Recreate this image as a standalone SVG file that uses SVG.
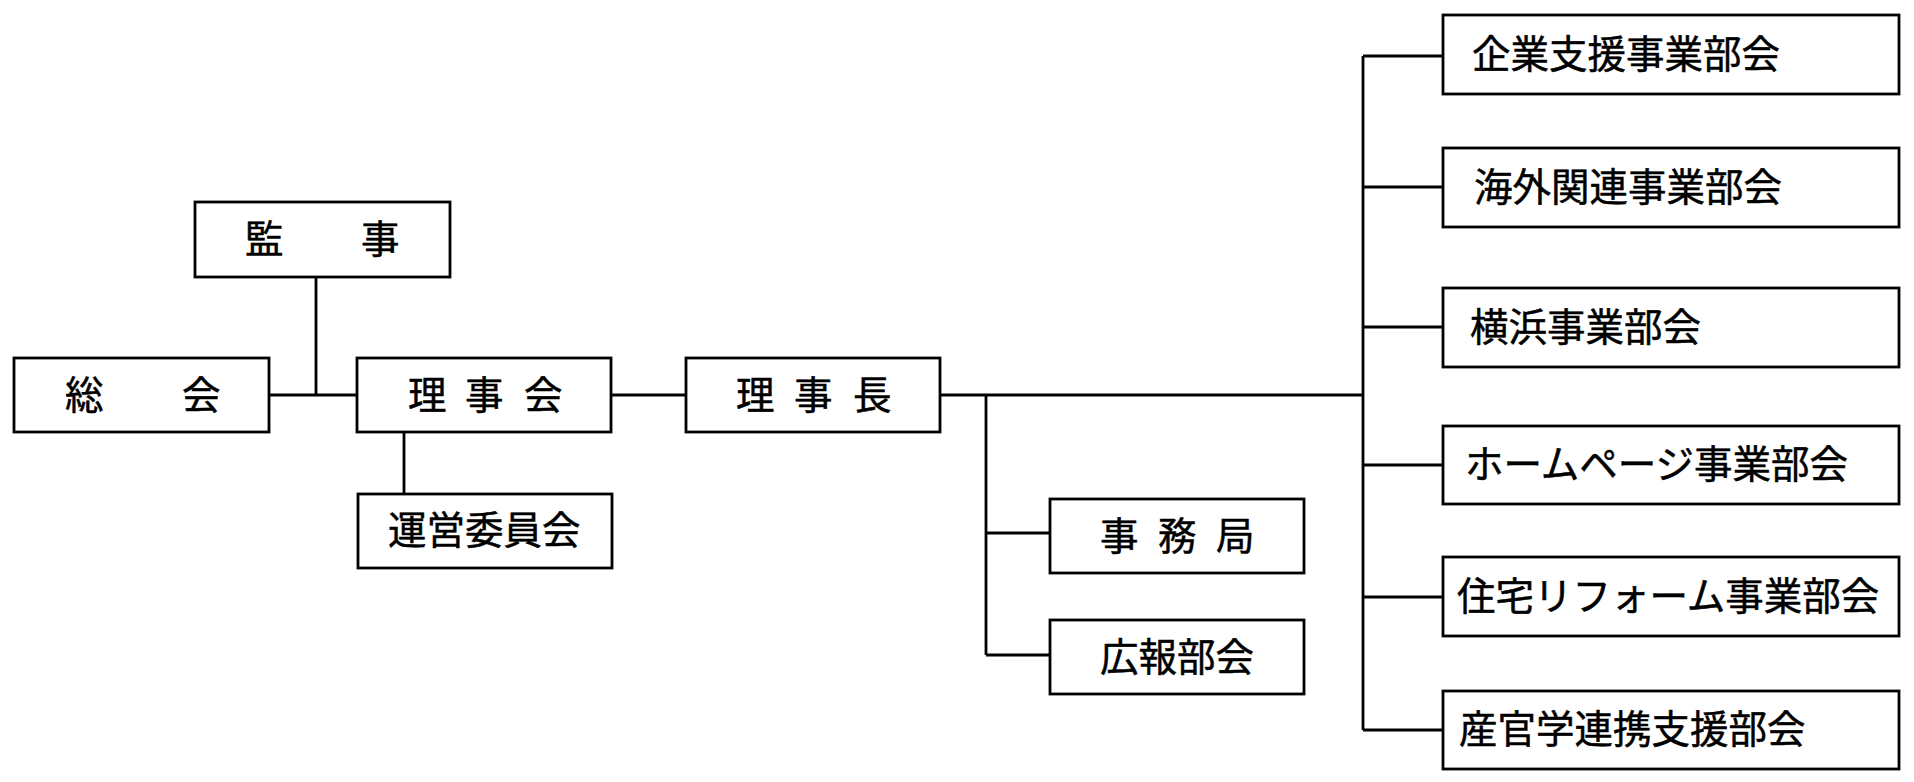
<svg xmlns="http://www.w3.org/2000/svg" width="1914" height="782" viewBox="0 0 1914 782">
<style>
.box{fill:#fff;stroke:#000;stroke-width:2.8}
.ln{fill:none;stroke:#000;stroke-width:2.8}
text{font-family:"Noto Sans CJK JP","Noto Sans CJK SC",sans-serif;font-size:38.5px;fill:#000;stroke:#000;stroke-width:0.5}
</style>
<rect width="1914" height="782" fill="#fff"/>
<g id="connectors">
<path class="ln" d="M316 277V395M269 395H357M404 432V494M611 395H686M940 395H1363M986 395V655M986 533H1050M986 655H1050M1363 56V730M1363 56H1443M1363 187H1443M1363 327H1443M1363 465H1443M1363 597H1443M1363 730H1443"/>
</g>
<g id="kanji"><rect class="box" x="195" y="202" width="255" height="75"/><text x="245 361" y="253">監事</text></g>
<g id="soukai"><rect class="box" x="14" y="358" width="255" height="74"/><text x="65 182" y="409">総会</text></g>
<g id="rijikai"><rect class="box" x="357" y="358" width="254" height="74"/><text x="408 465 524" y="409">理事会</text></g>
<g id="uneiiinkai"><rect class="box" x="358" y="494" width="254" height="74"/><text x="388" y="544">運営委員会</text></g>
<g id="rijicho"><rect class="box" x="686" y="358" width="254" height="74"/><text x="736 794 853" y="409">理事長</text></g>
<g id="jimukyoku"><rect class="box" x="1050" y="499" width="254" height="74"/><text x="1100 1158 1216" y="550">事務局</text></g>
<g id="kouhou"><rect class="box" x="1050" y="620" width="254" height="74"/><text x="1100" y="671">広報部会</text></g>
<g id="kigyou"><rect class="box" x="1443" y="15" width="456" height="79"/><text x="1472" y="68">企業支援事業部会</text></g>
<g id="kaigai"><rect class="box" x="1443" y="148" width="456" height="79"/><text x="1474" y="201">海外関連事業部会</text></g>
<g id="yokohama"><rect class="box" x="1443" y="288" width="456" height="79"/><text x="1470" y="341">横浜事業部会</text></g>
<g id="homepage"><rect class="box" x="1443" y="426" width="456" height="78"/><text x="1465" y="478">ホームページ事業部会</text></g>
<g id="reform"><rect class="box" x="1443" y="557" width="456" height="79"/><text x="1457" y="610">住宅リフォーム事業部会</text></g>
<g id="sangaku"><rect class="box" x="1443" y="691" width="456" height="78"/><text x="1459" y="743">産官学連携支援部会</text></g>
</svg>
